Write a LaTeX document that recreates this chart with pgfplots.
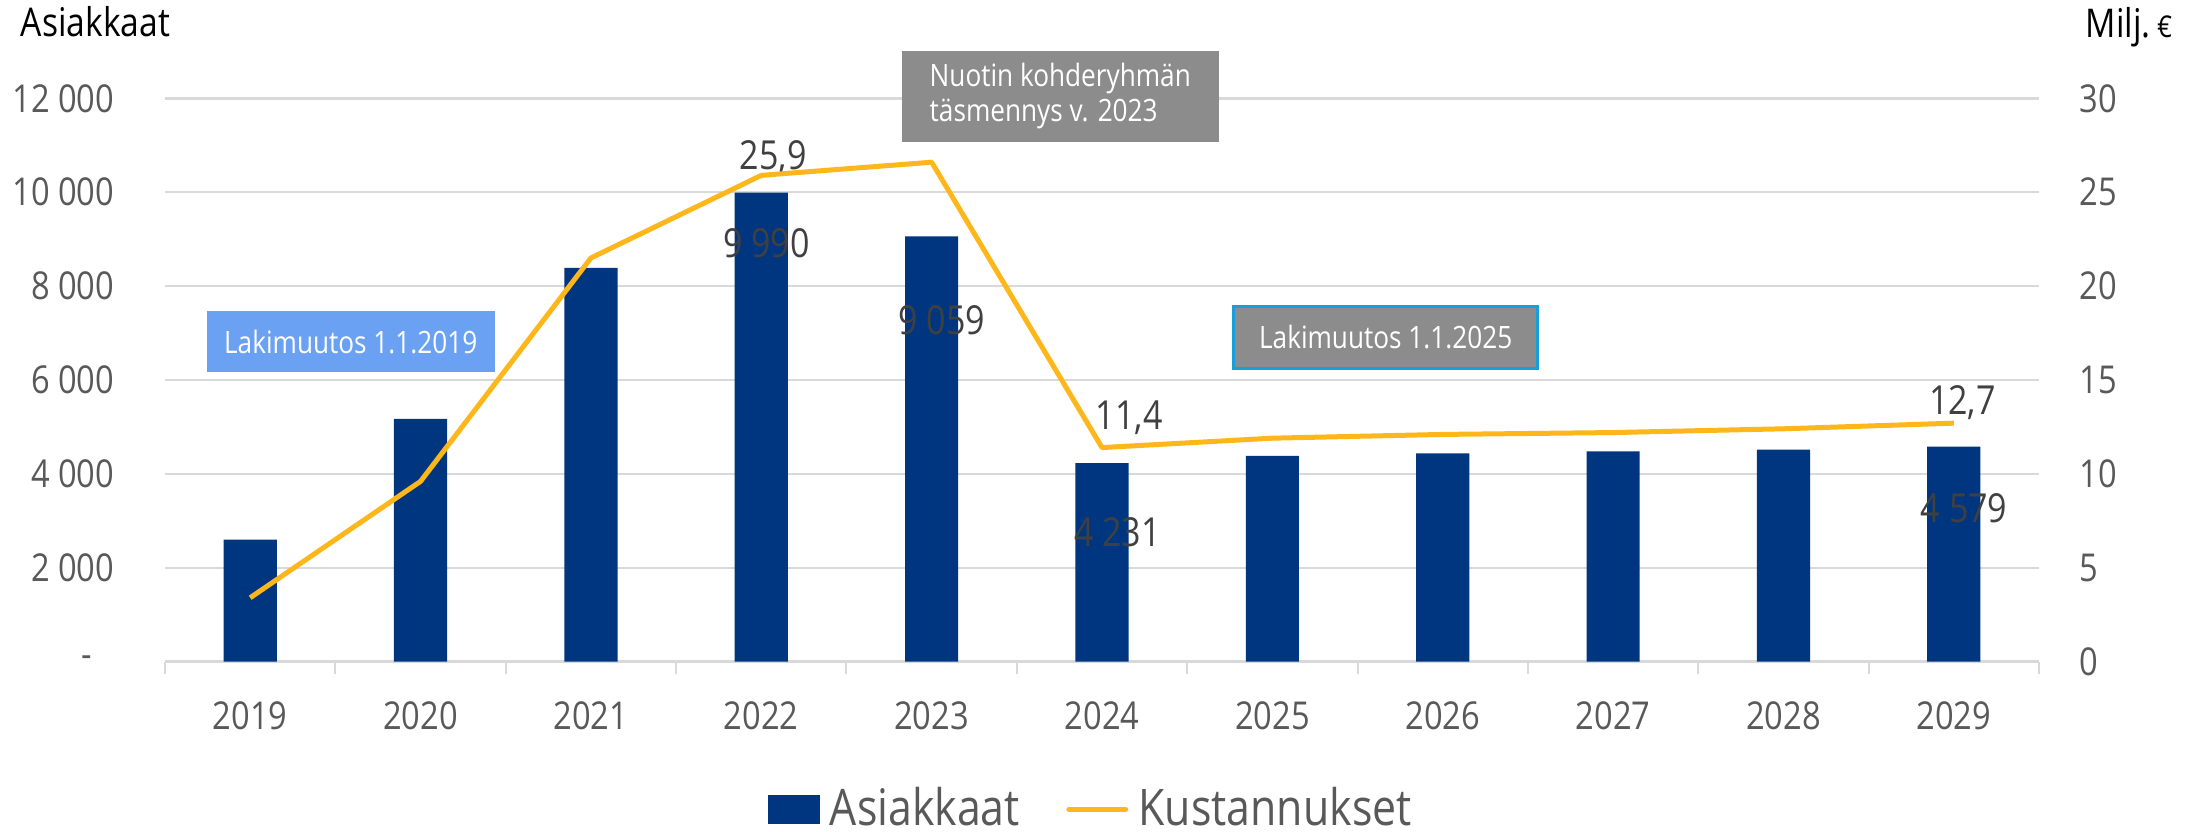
\documentclass[border=0pt]{standalone}
\usepackage{fontspec}
\setmainfont{Open Sans}[FakeStretch=0.85]
\usepackage{pgfplots}
\pgfplotsset{compat=1.18}
\definecolor{barblue}{HTML}{00367F}
\definecolor{lineyel}{HTML}{FDB71A}
\definecolor{gridgrey}{HTML}{D9D9D9}
\definecolor{ticktxt}{HTML}{595959}
\definecolor{lbltxt}{HTML}{404040}
\definecolor{boxblue}{HTML}{6AA1F2}
\definecolor{boxgrey}{HTML}{8C8C8D}
\definecolor{boxedge}{HTML}{1A9ED9}
\newcommand\tickf{\fontsize{9.6}{11}\selectfont}
\newcommand\lblf{\fontsize{10}{12}\selectfont}
\newcommand\annf{\fontsize{7.7}{8.75}\selectfont}
\newcommand\legf{\fontsize{12.6}{15}\selectfont}
\newcommand\titf{\fontsize{9.9}{12}\selectfont}
\begin{document}
\begin{tikzpicture}
\path[use as bounding box] (-41.25pt,-42.6pt) rectangle (509.5pt,165.4pt);
\begin{axis}[
  scale only axis, width=468.5pt, height=140.8pt,
  xmin=-0.5, xmax=10.5, ymin=0, ymax=12000,
  scaled y ticks=false,
  axis line style={draw=none},
  ybar, bar width=13.3pt,
  xtick={0,...,10},
  xticklabels={2019,2020,2021,2022,2023,2024,2025,2026,2027,2028,2029},
  major tick length=0pt,
  tick pos=left,
  xticklabel style={font=\tickf, text=ticktxt, anchor=base, inner sep=0pt, yshift=-17pt},
  extra x ticks={-0.5,0.5,1.5,2.5,3.5,4.5,5.5,6.5,7.5,8.5,9.5,10.5},
  extra x tick labels={},
  extra x tick style={major tick length=3.2pt, tick align=outside, grid=none,
     tick style={draw=gridgrey, line width=0.5pt}},
  ytick={0,2000,4000,6000,8000,10000,12000},
  yticklabels={{-\hspace*{5.5pt}},{2 000},{4 000},{6 000},{8 000},{10 000},{12 000}},
  yticklabel style={font=\tickf, text=ticktxt, anchor=east, inner sep=0pt, xshift=-12.5pt},
  ytick style={draw=none},
  ymajorgrids, grid style={gridgrey, line width=0.6pt},
  clip=false,
  legend columns=2,
  legend style={at={(0.494,-0.262)}, anchor=center, draw=none, fill=none,
     font=\legf, text=ticktxt, inner sep=0pt, nodes={inner sep=0.6pt},
     /tikz/every odd column/.append style={column sep=2pt},
     /tikz/every even column/.append style={column sep=11pt}},
]
\addplot[fill=barblue, draw=none,
  legend image code/.code={\fill[barblue] (0pt,-3.6pt) rectangle (13pt,3.6pt);}]
  coordinates {(0,2600) (1,5170) (2,8390) (3,9990) (4,9059) (5,4231) (6,4383) (7,4434) (8,4477) (9,4519) (10,4579)};
\addlegendentry{Asiakkaat}
\addlegendimage{legend image code/.code={\draw[lineyel, line width=1.3pt, line cap=round] (0pt,0pt) -- (14.2pt,0pt);}}
\addlegendentry{Kustannukset}
% data labels
\node[font=\lblf, text=lbltxt, inner sep=0pt] at (axis cs:3.03,8909) {9 990};
\node[font=\lblf, text=lbltxt, inner sep=0pt] at (axis cs:4.06,7270) {9 059};
\node[font=\lblf, text=lbltxt, inner sep=0pt] at (axis cs:5.09,2760) {4 231};
\node[font=\lblf, text=lbltxt, inner sep=0pt] at (axis cs:10.06,3270) {4 579};
\node[font=\lblf, text=lbltxt, inner sep=0pt] at (axis cs:3.07,10739) {25,9};
\node[font=\lblf, text=lbltxt, inner sep=0pt] at (axis cs:5.16,5206) {11,4};
\node[font=\lblf, text=lbltxt, inner sep=0pt] at (axis cs:10.05,5526) {12,7};
% annotation boxes
\node[fill=boxblue, text=white, minimum width=72pt, minimum height=15.25pt, inner sep=0pt, font=\annf]
  at (axis cs:0.59,6813) {Lakimuutos 1.1.2019};
\node[fill=boxgrey, text=white, minimum width=79.25pt, minimum height=22.75pt, inner sep=0pt, align=left, font=\annf]
  at (axis cs:4.755,12047) {Nuotin kohderyhmän\\täsmennys v. 2023};
\node[fill=boxgrey, draw=boxedge, line width=0.7pt, text=white, minimum width=76pt, minimum height=15.5pt, inner sep=0pt, font=\annf]
  at (axis cs:6.665,6909) {Lakimuutos 1.1.2025};
% axis titles
\node[anchor=base west, inner sep=0pt, font=\titf, text=black] at (rel axis cs:-0.0774,1.1097) {Asiakkaat};
\node[anchor=base west, inner sep=0pt, font=\titf, text=black] at (rel axis cs:1.0245,1.1074) {Milj.\,{\fontsize{7.5}{9}\selectfont €}};
\end{axis}
\begin{axis}[
  scale only axis, width=468.5pt, height=140.8pt,
  xmin=-0.5, xmax=10.5, ymin=0, ymax=30,
  axis x line=none, axis y line*=right,
  y axis line style={draw=none},
  ytick={0,5,10,15,20,25,30},
  yticklabels={0,5,10,15,20,25,30},
  yticklabel style={font=\tickf, text=ticktxt, anchor=west, inner sep=0pt, xshift=10pt},
  major tick length=0pt, ytick style={draw=none},
  clip=false,
]
\addplot[lineyel, line width=1.25pt, line join=round, mark=none]
  coordinates {(0,3.4) (1,9.6) (2,21.5) (3,25.9) (4,26.6) (5,11.4) (6,11.9) (7,12.1) (8,12.2) (9,12.4) (10,12.7)};
\end{axis}
\end{tikzpicture}
\end{document}
